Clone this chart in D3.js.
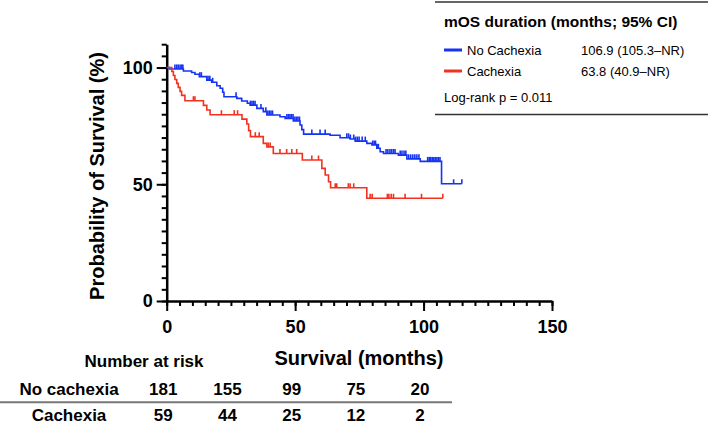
<!DOCTYPE html>
<html>
<head>
<meta charset="utf-8">
<script src="https://cdn.jsdelivr.net/npm/d3@7"></script>
<style>
  body { margin: 0; background: #fff; }
  svg text { font-family: "Liberation Sans", Arial, sans-serif; }
</style>
</head>
<body>
<svg id="chart" width="708" height="426"></svg>
<script>
// Kaplan-Meier steps (months, survival %)
const noCachexiaTimes = [0, 1.0, 6.5, 9.7, 11.0, 12.7, 15.6, 17.5, 19.5, 20.8, 21.8, 22.3, 27.3, 29.2, 31.4, 32.5, 35.1, 37.6, 39.0, 44.1, 46.1, 49.3, 51.9, 52.6, 53.3, 63.6, 67.5, 71.4, 73.4, 77.9, 79.9, 81.8, 83.1, 84.4, 90.2, 93.5, 98.7, 107.0];
const noCachexiaSurv  = [100, 99.4, 98.5, 97.9, 97.1, 96.1, 94.6, 93.7, 92.2, 91.1, 89.4, 87.5, 86.8, 85.7, 84.7, 83.9, 82.5, 81.1, 79.7, 78.9, 78.2, 77.1, 75.4, 73.4, 71.5, 71.0, 69.9, 69.4, 68.5, 67.5, 66.8, 65.4, 63.9, 63.2, 62.5, 60.9, 59.8, 50.2];
const noCachexiaEnd = 114.9;
const noCachexiaCensor = [3.2, 3.9, 4.5, 5.2, 5.8, 6.3, 12.9, 13.5, 16.1, 16.8, 17.9, 27.0, 32.6, 33.2, 33.8, 34.4, 36.7, 38.6, 39.4, 40.0, 40.6, 41.2, 46.8, 47.4, 48.0, 48.6, 49.2, 49.9, 50.5, 51.1, 51.7, 56.5, 59.7, 61.7, 70.1, 70.8, 71.5, 72.8, 73.5, 74.2, 74.9, 76.1, 77.3, 80.2, 80.8, 81.3, 81.9, 82.4, 85.4, 86.1, 86.9, 87.6, 88.3, 88.9, 90.9, 91.6, 92.4, 93.1, 94.2, 95.0, 95.8, 96.6, 97.4, 98.2, 101.6, 102.2, 102.8, 103.4, 104.0, 104.6, 105.2, 105.8, 106.4, 111.7, 114.9];

const cachexiaTimes = [0, 2.0, 2.6, 3.2, 3.9, 4.5, 5.2, 5.8, 7.1, 14.3, 15.6, 16.9, 29.3, 31.2, 31.9, 32.6, 37.6, 39.0, 41.5, 52.8, 60.4, 61.7, 63.0, 63.8, 77.9];
const cachexiaSurv  = [100, 98.3, 96.6, 94.9, 93.2, 91.5, 89.8, 88.1, 85.8, 83.8, 81.8, 79.8, 77.9, 75.8, 73.0, 70.4, 67.5, 66.0, 63.2, 60.4, 56.8, 54.0, 51.1, 48.5, 44.0];
const cachexiaEnd = 107.5;
const cachexiaCensor = [10.4, 11.0, 21.3, 26.3, 27.6, 34.5, 36.0, 39.5, 40.3, 44.1, 46.7, 48.7, 50.6, 56.5, 59.1, 65.6, 66.2, 70.7, 71.4, 72.8, 79.2, 80.0, 85.9, 86.5, 87.4, 88.3, 92.8, 99.2, 107.5];

// Number at risk table
const riskTimes = [0, 25, 50, 75, 100];
const riskNoCachexia = [181, 155, 99, 75, 20];
const riskCachexia = [59, 44, 25, 12, 2];

// Legend
const legendNames = ["No Cachexia", "Cachexia"];
const legendMedians = ["106.9 (105.3\u2013NR)", "63.8 (40.9\u2013NR)"];

const blue = "#1533f2", red = "#f2321f";

const svg = d3.select("#chart");
const x = d3.scaleLinear().domain([0, 150]).range([166.7, 552]);
const y = d3.scaleLinear().domain([0, 110]).range([301, 44.2]);

// Axes: minor ticks every 5, major ticks with labels
function styleAxis(g) {
  g.selectAll(".domain").attr("stroke", "#000").attr("stroke-width", 2.5);
  g.selectAll(".tick line").attr("stroke", "#000").attr("stroke-width", 2);
  g.selectAll(".tick text").attr("fill", "#000")
      .style("font-size", "18px").style("font-weight", "bold");
}
svg.append("g").attr("transform", "translate(0,301)")
    .call(d3.axisBottom(x).tickValues(d3.range(0, 151, 5)).tickSize(5).tickFormat("").tickSizeOuter(0))
    .call(styleAxis);
svg.append("g").attr("transform", "translate(0,301)")
    .call(d3.axisBottom(x).tickValues([0, 50, 100, 150]).tickSize(10).tickPadding(9).tickSizeOuter(0))
    .call(styleAxis)
    .call(g => g.select(".domain").remove());
svg.append("g").attr("transform", "translate(166.7,0)")
    .call(d3.axisLeft(y).tickValues(d3.range(0, 111, 5)).tickSize(5).tickFormat("").tickSizeOuter(0))
    .call(styleAxis);
svg.append("g").attr("transform", "translate(166.7,0)")
    .call(d3.axisLeft(y).tickValues([0, 50, 100]).tickSize(10).tickPadding(4).tickSizeOuter(0))
    .call(styleAxis)
    .call(g => g.select(".domain").remove());

// Axis titles
svg.append("text")
    .attr("transform", "translate(104,176) rotate(-90)")
    .attr("text-anchor", "middle")
    .style("font-size", "20px").style("font-weight", "bold")
    .text("Probability of Survival (%)");
svg.append("text")
    .attr("x", 359).attr("y", 365)
    .attr("text-anchor", "middle")
    .style("font-size", "20px").style("font-weight", "bold")
    .text("Survival (months)");

// KM curves
function drawCurve(times, surv, end, censor, color) {
  let pts = times.map((t, i) => [t, surv[i]]);
  pts.push([end, surv[surv.length - 1]]);
  let line = d3.line().x(d => x(d[0])).y(d => y(d[1])).curve(d3.curveStepAfter);
  svg.append("path")
      .attr("d", line(pts))
      .attr("fill", "none")
      .attr("stroke", color)
      .attr("stroke-width", 1.6);
  let survAt = t => surv[d3.bisectRight(times, t) - 1];
  svg.append("g").selectAll("line")
      .data(censor).enter()
      .append("line")
          .attr("x1", d => x(d)).attr("x2", d => x(d))
          .attr("y1", d => y(survAt(d)))
          .attr("y2", d => y(survAt(d)) - 4.5)
          .attr("stroke", color)
          .attr("stroke-width", 1.6);
}
drawCurve(noCachexiaTimes, noCachexiaSurv, noCachexiaEnd, noCachexiaCensor, blue);
drawCurve(cachexiaTimes, cachexiaSurv, cachexiaEnd, cachexiaCensor, red);

// Legend box
const leg = svg.append("g");
leg.append("line").attr("x1", 435).attr("x2", 708).attr("y1", 2).attr("y2", 2)
    .attr("stroke", "#333").attr("stroke-width", 1.5);
leg.append("line").attr("x1", 435).attr("x2", 708).attr("y1", 114.5).attr("y2", 114.5)
    .attr("stroke", "#333").attr("stroke-width", 1.5);
leg.append("text").attr("x", 444).attr("y", 27)
    .style("font-size", "15.5px").style("font-weight", "bold")
    .text("mOS duration (months; 95% CI)");
[blue, red].forEach((c, i) => {
  let yy = 50 + i * 21;
  leg.append("line").attr("x1", 444).attr("x2", 462).attr("y1", yy).attr("y2", yy)
      .attr("stroke", c).attr("stroke-width", 3);
  leg.append("text").attr("x", 467).attr("y", yy + 4.5)
      .style("font-size", "13px").text(legendNames[i]);
  leg.append("text").attr("x", 581).attr("y", yy + 4.5)
      .style("font-size", "13px").text(legendMedians[i]);
});
leg.append("text").attr("x", 444).attr("y", 102)
    .style("font-size", "13px").text("Log-rank p = 0.011");

// Number at risk table
const risk = svg.append("g").style("font-size", "17px").style("font-weight", "bold");
risk.append("text").attr("x", 144).attr("y", 367).attr("text-anchor", "middle").text("Number at risk");
risk.append("text").attr("x", 69).attr("y", 395).attr("text-anchor", "middle").text("No cachexia");
risk.append("text").attr("x", 69).attr("y", 421).attr("text-anchor", "middle").text("Cachexia");
risk.selectAll(".r1").data(riskNoCachexia).enter().append("text")
    .attr("x", (d, i) => x(riskTimes[i]) - 3.5).attr("y", 395)
    .attr("text-anchor", "middle").text(d => d);
risk.selectAll(".r2").data(riskCachexia).enter().append("text")
    .attr("x", (d, i) => x(riskTimes[i]) - 3.5).attr("y", 421)
    .attr("text-anchor", "middle").text(d => d);
svg.append("line").attr("x1", 0).attr("x2", 452).attr("y1", 402.3).attr("y2", 402.3)
    .attr("stroke", "#777").attr("stroke-width", 2);
</script>
</body>
</html>
